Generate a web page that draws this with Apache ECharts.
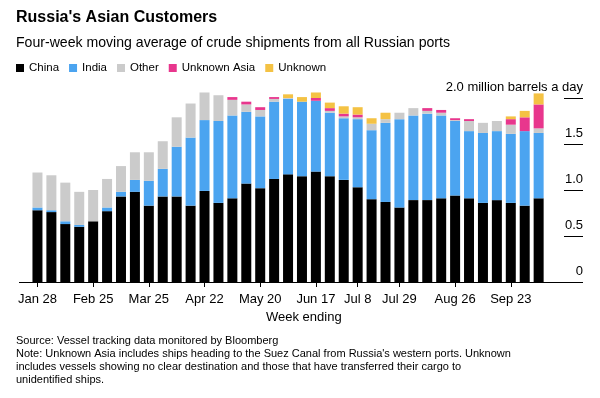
<!DOCTYPE html>
<html>
<head>
<meta charset="utf-8">
<script src="https://cdn.jsdelivr.net/npm/echarts@6/dist/echarts.min.js"></script>
<style>
  body{margin:0;background:#fff;}
  #chart{width:600px;height:398px;}
</style>
</head>
<body>
<div id="chart"></div>
<script>
// weeks (week ending)
var weeks = ['Jan 28','Feb 4','Feb 11','Feb 18','Feb 25','Mar 4','Mar 11','Mar 18','Mar 25',
  'Apr 1','Apr 8','Apr 15','Apr 22','Apr 29','May 6','May 13','May 20','May 27','Jun 3',
  'Jun 10','Jun 17','Jun 24','Jul 1','Jul 8','Jul 15','Jul 22','Jul 29','Aug 5','Aug 12',
  'Aug 19','Aug 26','Sep 2','Sep 9','Sep 16','Sep 23','Sep 30','Oct 7'];
var shownWeeks = ['Jan 28','Feb 25','Mar 25','Apr 22','May 20','Jun 17','Jul 8','Jul 29','Aug 26','Sep 23'];

// million barrels a day
var china = [0.78,0.76,0.63,0.60,0.66,0.77,0.93,0.98,0.83,0.93,0.93,0.83,0.99,0.86,0.91,1.07,1.02,1.12,1.17,
  1.15,1.20,1.15,1.11,1.03,0.90,0.87,0.81,0.89,0.89,0.91,0.94,0.91,0.86,0.89,0.86,0.83,0.91];
var india = [0.03,0.02,0.03,0.02,0,0.04,0.05,0.13,0.27,0.30,0.54,0.74,0.77,0.89,0.90,0.78,0.78,0.84,0.82,
  0.81,0.77,0.69,0.67,0.74,0.75,0.86,0.96,0.92,0.94,0.90,0.81,0.73,0.76,0.75,0.75,0.81,0.71];
var other = [0.38,0.38,0.42,0.36,0.34,0.31,0.28,0.30,0.31,0.30,0.32,0.37,0.30,0.28,0.17,0.08,0.07,0.03,0.01,
  0,0,0.02,0.02,0.02,0.07,0.04,0.07,0.08,0.03,0.03,0.01,0.11,0.11,0.11,0.10,0,0.05];
var unknownAsia = [0,0,0,0,0,0,0,0,0,0,0,0,0,0,0.03,0.03,0.03,0.02,0,
  0,0.03,0.03,0.03,0.03,0,0,0,0,0.03,0.03,0.02,0.02,0,0,0.06,0.15,0.26];
var unknown = [0,0,0,0,0,0,0,0,0,0,0,0,0,0,0,0,0,0,0.04,
  0.05,0.06,0.06,0.08,0.08,0.06,0.07,0,0,0,0,0,0,0,0,0.03,0.07,0.12];
var yTicks = [0,0.5,1,1.5,2];

var font = 'Liberation Sans, Arial, sans-serif';

function makeSeries(name, data, color){
  return {
    name: name,
    type: 'bar',
    stack: 'total',
    barWidth: 10,
    clip: false, // some weeks go a bit above 2.0
    data: data,
    itemStyle: {color: color},
    emphasis: {disabled: true}
  };
}

var option = {
  animation: false,
  textStyle: {fontFamily: font},
  title: [{
    text: "Russia's Asian Customers",
    left: 11, top: 5,
    textStyle: {fontSize: 16, fontWeight: 'bold', color: '#000', fontFamily: font}
  },{
    text: 'Four-week moving average of crude shipments from all Russian ports',
    left: 11, top: 31,
    textStyle: {fontSize: 14.1, fontWeight: 'normal', color: '#000', fontFamily: font}
  }],
  legend: {
    left: 11, top: 57,
    icon: 'rect',
    itemWidth: 8, itemHeight: 8,
    itemGap: 10,
    textStyle: {fontSize: 11.5, color: '#000'},
    data: ['China','India','Other','Unknown Asia','Unknown']
  },
  grid: {left: 30.5, right: 54.4, top: 98, bottom: 116},
  xAxis: {
    type: 'category',
    data: weeks,
    axisLine: {show: false},
    axisTick: {
      show: true,
      alignWithLabel: true,
      length: 5,
      lineStyle: {color: '#000'},
      interval: function(i, v){ return shownWeeks.indexOf(v) > -1; }
    },
    axisLabel: {
      fontSize: 13, color: '#000', margin: 11,
      interval: function(i, v){ return shownWeeks.indexOf(v) > -1; }
    }
  },
  yAxis: {
    type: 'value',
    position: 'right',
    offset: 37.4,
    min: yTicks[0], max: yTicks[yTicks.length - 1], interval: 0.5,
    axisLine: {show: false},
    axisTick: {show: true, inside: true, length: 19, lineStyle: {color: '#000'}},
    splitLine: {show: false},
    axisLabel: {
      inside: true, margin: 0,
      fontSize: 13, color: '#000',
      verticalAlign: 'bottom',
      padding: [0,0,4,0],
      formatter: function(v){
        if (v === 2) return '2.0 million barrels a day';
        if (v === 0) return '0';
        return v.toFixed(1);
      }
    }
  },
  graphic: [{
    // base line across the plot
    type: 'line',
    shape: {x1: 19, y1: 282.5, x2: 583, y2: 282.5},
    style: {stroke: '#000', lineWidth: 1}
  },{
    type: 'text',
    left: 266, top: 311,
    style: {text: 'Week ending', fontSize: 13, fill: '#000', fontFamily: font}
  },{
    type: 'text',
    left: 16, top: 334,
    style: {
      text: 'Source: Vessel tracking data monitored by Bloomberg\n' +
        "Note: Unknown Asia includes ships heading to the Suez Canal from Russia's western ports. Unknown\n" +
        'includes vessels showing no clear destination and those that have transferred their cargo to\n' +
        'unidentified ships.',
      fontSize: 11, lineHeight: 13, fill: '#000', fontFamily: font
    }
  }],
  series: [
    makeSeries('China', china, '#000000'),
    makeSeries('India', india, '#4ba4f0'),
    makeSeries('Other', other, '#cbcbcb'),
    makeSeries('Unknown Asia', unknownAsia, '#e8368d'),
    makeSeries('Unknown', unknown, '#f4c244')
  ]
};

var myChart = echarts.init(document.getElementById('chart'));
myChart.setOption(option);
</script>
</body>
</html>
